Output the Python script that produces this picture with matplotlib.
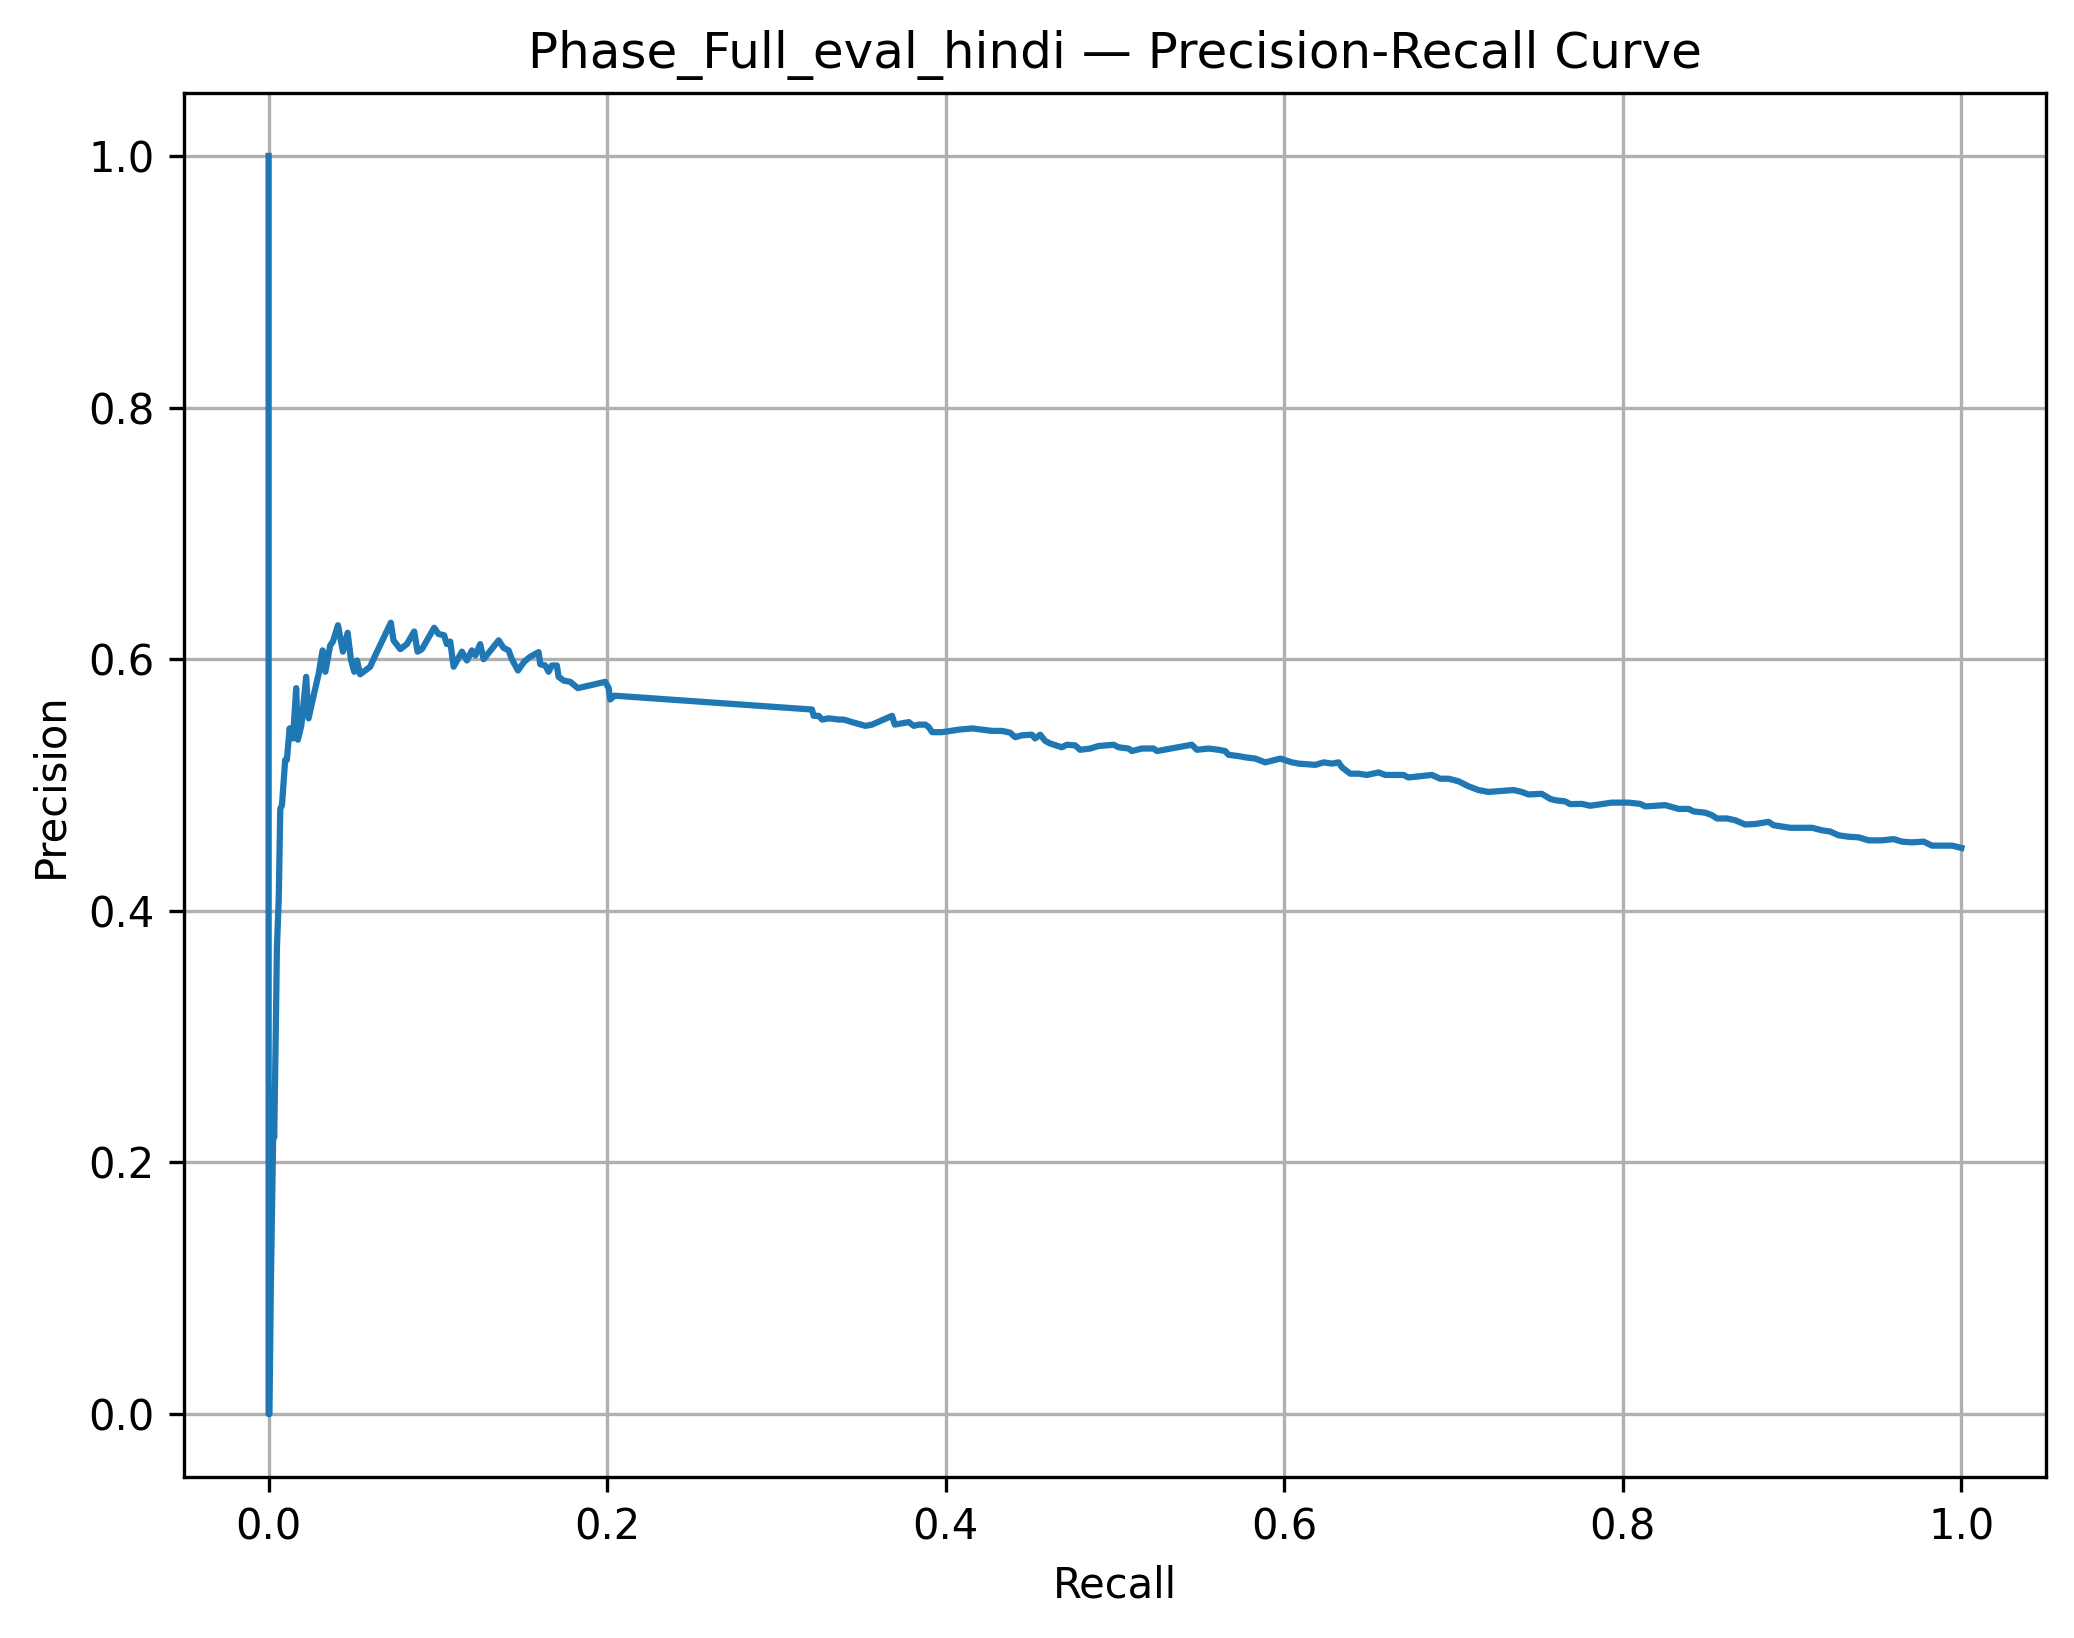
import numpy as np
import matplotlib
matplotlib.use("Agg")
import matplotlib.pyplot as plt

title = "Phase_Full_eval_hindi \u2014 Precision-Recall Curve"

# recall / precision points, in increasing recall
recall = [
    0.0, 0.0, 0.0005, 0.0013, 0.0022, 0.0028, 0.0033, 0.0036, 0.0042, 0.0049,
    0.0060, 0.0069, 0.0079, 0.0098, 0.0108, 0.0124, 0.0144, 0.0163, 0.0173,
    0.0193, 0.0222, 0.0236, 0.0266, 0.0295, 0.0319, 0.0335, 0.0364, 0.0380,
    0.0410, 0.0439, 0.0467, 0.0486, 0.0506, 0.0522, 0.0541, 0.0571, 0.0600,
    0.0630, 0.0722, 0.0738, 0.0778, 0.0817, 0.0860, 0.0880, 0.0906, 0.0978,
    0.1004, 0.1037, 0.1053, 0.1073, 0.1093, 0.1142, 0.1172, 0.1201, 0.1221,
    0.1250, 0.1270, 0.1359, 0.1388, 0.1418, 0.1437, 0.1473, 0.1510, 0.1546,
    0.1595, 0.1605, 0.1634, 0.1654, 0.1673, 0.1703, 0.1713, 0.1743, 0.1782,
    0.1827, 0.1989, 0.2009, 0.2018, 0.2044, 0.3210, 0.3220, 0.3250, 0.3270,
    0.3309, 0.3368, 0.3398, 0.3447, 0.3526, 0.3565, 0.3683, 0.3699, 0.3782,
    0.3811, 0.3841, 0.3880, 0.3900, 0.3920, 0.3979, 0.4077, 0.4156, 0.4274,
    0.4333, 0.4381, 0.4410, 0.4450, 0.4509, 0.4528, 0.4558, 0.4588, 0.4617,
    0.4686, 0.4716, 0.4765, 0.4794, 0.4854, 0.4903, 0.4992, 0.5021, 0.5080,
    0.5100, 0.5159, 0.5228, 0.5248, 0.5454, 0.5484, 0.5553, 0.5612, 0.5651,
    0.5671, 0.5730, 0.5770, 0.5829, 0.5888, 0.5977, 0.6045, 0.6085, 0.6184,
    0.6233, 0.6282, 0.6321, 0.6341, 0.6390, 0.6439, 0.6488, 0.6557, 0.6597,
    0.6704, 0.6734, 0.6872, 0.6921, 0.6970, 0.7029, 0.7088, 0.7147, 0.7206,
    0.7354, 0.7403, 0.7442, 0.7521, 0.7571, 0.7600, 0.7659, 0.7689, 0.7758,
    0.7807, 0.7935, 0.8034, 0.8103, 0.8133, 0.8251, 0.8329, 0.8389, 0.8418,
    0.8487, 0.8527, 0.8556, 0.8615, 0.8664, 0.8723, 0.8782, 0.8861, 0.8891,
    0.8940, 0.8990, 0.9039, 0.9118, 0.9176, 0.9226, 0.9275, 0.9334, 0.9393,
    0.9452, 0.9531, 0.9600, 0.9649, 0.9708, 0.9777, 0.9827, 0.9906, 0.9945,
    1.0,
]
precision = [
    1.0, 0.0, 0.0, 0.10, 0.18, 0.23, 0.22, 0.25, 0.30, 0.37,
    0.41, 0.481, 0.484, 0.520, 0.520, 0.545, 0.537, 0.577, 0.536,
    0.547, 0.586, 0.553, 0.571, 0.588, 0.607, 0.590, 0.611, 0.614,
    0.627, 0.606, 0.621, 0.600, 0.590, 0.599, 0.588, 0.591, 0.594,
    0.603, 0.629, 0.615, 0.608, 0.612, 0.622, 0.606, 0.608, 0.625,
    0.620, 0.619, 0.612, 0.614, 0.594, 0.606, 0.599, 0.607, 0.603,
    0.612, 0.600, 0.615, 0.609, 0.607, 0.600, 0.591, 0.598, 0.602,
    0.6056, 0.596, 0.595, 0.590, 0.595, 0.595, 0.586, 0.583, 0.582,
    0.577, 0.582, 0.577, 0.568, 0.571, 0.560, 0.555, 0.555, 0.552,
    0.553, 0.552, 0.552, 0.550, 0.547, 0.548, 0.555, 0.548, 0.550,
    0.547, 0.548, 0.548, 0.546, 0.542, 0.542, 0.544, 0.545, 0.543,
    0.543, 0.5416, 0.538, 0.5395, 0.540, 0.537, 0.540, 0.535, 0.533,
    0.530, 0.532, 0.5315, 0.528, 0.529, 0.531, 0.532, 0.530, 0.529,
    0.527, 0.529, 0.529, 0.527, 0.532, 0.528, 0.529, 0.528, 0.527,
    0.524, 0.523, 0.522, 0.521, 0.518, 0.521, 0.518, 0.517, 0.516,
    0.518, 0.517, 0.518, 0.514, 0.509, 0.509, 0.508, 0.510, 0.508,
    0.508, 0.506, 0.508, 0.505, 0.505, 0.503, 0.499, 0.496, 0.4945,
    0.496, 0.4945, 0.4925, 0.493, 0.489, 0.4879, 0.487, 0.4848, 0.485,
    0.4835, 0.486, 0.486, 0.485, 0.483, 0.484, 0.481, 0.481, 0.479,
    0.478, 0.476, 0.4734, 0.4734, 0.472, 0.4686, 0.469, 0.4707, 0.468,
    0.467, 0.466, 0.466, 0.466, 0.464, 0.463, 0.460, 0.4589, 0.4584,
    0.456, 0.456, 0.457, 0.455, 0.4544, 0.455, 0.4518, 0.4518, 0.4518,
    0.450,
]

fig, ax = plt.subplots(figsize=(2074 / 300, 1638 / 300), dpi=300)
fig.subplots_adjust(left=0.0887, right=0.9865, top=0.9432, bottom=0.0983)

# sklearn order: high recall first, recall 0 / precision 1 last
ax.plot(recall[::-1], precision[::-1], color="#1f77b4", lw=1.5)
ax.set_xlabel("Recall")
ax.set_ylabel("Precision")
ax.set_title(title)
ax.grid(True)

fig.savefig("out.png", dpi=300)
